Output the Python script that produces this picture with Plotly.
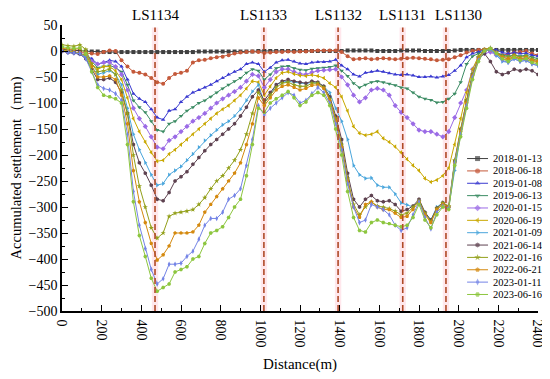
import plotly.graph_objects as go

# ---------------- data ----------------
distance = list(range(0, 2401, 30))

dates = ["2018-01-13", "2018-06-18", "2019-01-08", "2019-06-13", "2020-01-15", "2020-06-19",
         "2021-01-09", "2021-06-14", "2022-01-16", "2022-06-21", "2023-01-11", "2023-06-16"]

s_20180113 = [3,2,1,0,-1,-1,-1,-2,-2,-2,
 -2,-2,-2,-2,-2,-2,-2,-2,-2,-2,
 -2,-2,-2,-1,-1,-1,-1,-1,-1,-1,
 -1,-1,-1,0,0,0,0,0,0,0,
 0,0,0,0,0,0,0,0,1,1,
 1,1,1,0,0,0,0,1,1,1,
 1,0,0,0,0,0,1,2,2,2,
 2,2,2,2,2,2,2,2,2,2,
 2]

s_20180618 = [0,-1,-2,-3,-3,-5,-6,-2,1,0,
 -18,-30,-40,-42,-45,-52,-60,-63,-52,-44,
 -42,-38,-22,-18,-17,-14,-12,-11,-8,-5,
 -3,-2,-1,-2,-4,-3,-2,-2,-1,-2,
 -1,-1,0,1,1,1,1,-2,-10,-16,
 -15,-14,-16,-15,-14,-15,-16,-15,-14,-13,
 -14,-15,-16,-18,-17,-16,-12,-8,-3,0,
 2,3,0,-5,-8,-5,-3,-2,0,-5,
 -8]

s_20190108 = [0,-2,-3,-5,-8,-15,-25,-22,-18,-20,
 -30,-55,-82,-92,-98,-112,-128,-132,-115,-112,
 -98,-88,-80,-75,-70,-65,-58,-52,-45,-40,
 -35,-25,-22,-25,-40,-32,-22,-18,-17,-20,
 -24,-25,-22,-21,-21,-20,-17,-28,-35,-45,
 -49,-42,-40,-38,-40,-43,-45,-46,-45,-47,
 -50,-50,-49,-51,-49,-46,-38,-28,-12,-5,
 -2,2,3,2,-3,-5,-3,-5,-4,-8,
 -10]

s_20190613 = [0,-2,-4,-6,-8,-20,-32,-30,-28,-32,
 -40,-65,-95,-108,-118,-135,-152,-155,-140,-135,
 -125,-115,-108,-100,-95,-88,-80,-72,-65,-58,
 -52,-42,-35,-38,-55,-45,-33,-30,-29,-33,
 -36,-37,-34,-33,-32,-31,-28,-38,-48,-62,
 -70,-65,-60,-58,-60,-63,-66,-70,-72,-80,
 -88,-92,-94,-99,-98,-92,-82,-60,-25,-10,
 -5,0,2,-2,-8,-10,-8,-10,-8,-12,
 -15]

s_20200115 = [0,-2,-3,-5,-10,-20,-25,-22,-22,-30,
 -45,-75,-110,-130,-145,-165,-185,-188,-172,-165,
 -155,-145,-135,-128,-120,-110,-100,-92,-85,-78,
 -70,-58,-45,-48,-70,-55,-40,-35,-35,-40,
 -44,-45,-41,-38,-37,-36,-35,-50,-65,-85,
 -98,-90,-75,-72,-75,-85,-105,-118,-128,-140,
 -152,-155,-155,-160,-165,-155,-128,-100,-75,-35,
 -12,-5,-2,-8,-12,-15,-12,-15,-14,-18,
 -20]

s_20200619 = [2,0,-2,-4,-10,-25,-35,-30,-30,-38,
 -55,-90,-130,-155,-175,-195,-212,-210,-198,-190,
 -180,-170,-160,-150,-140,-130,-120,-112,-105,-95,
 -85,-72,-58,-60,-85,-68,-52,-42,-40,-44,
 -47,-48,-46,-48,-52,-62,-70,-88,-115,-145,
 -158,-162,-160,-155,-168,-175,-184,-195,-208,-220,
 -230,-245,-252,-248,-240,-225,-180,-130,-80,-35,
 -10,0,2,-5,-15,-18,-12,-15,-18,-20,
 -22]

s_20210109 = [0,-2,-3,-5,-12,-30,-45,-42,-38,-45,
 -65,-110,-160,-190,-215,-238,-258,-255,-238,-230,
 -222,-210,-198,-185,-172,-162,-152,-142,-135,-125,
 -112,-95,-78,-65,-100,-85,-65,-60,-58,-60,
 -62,-63,-60,-62,-68,-80,-110,-135,-170,-220,
 -238,-245,-244,-258,-262,-262,-275,-292,-296,-300,
 -288,-312,-325,-300,-292,-300,-230,-160,-100,-45,
 -15,0,3,-8,-20,-22,-15,-20,-18,-25,
 -28]

s_20210614 = [0,-3,-4,-6,-15,-35,-55,-55,-52,-60,
 -80,-120,-180,-215,-235,-258,-285,-288,-272,-250,
 -242,-232,-218,-205,-192,-180,-170,-160,-150,-140,
 -125,-108,-88,-75,-95,-80,-65,-58,-55,-58,
 -60,-62,-58,-60,-68,-88,-125,-170,-235,-285,
 -300,-285,-278,-288,-290,-288,-295,-308,-305,-298,
 -285,-310,-325,-302,-292,-300,-212,-150,-95,-45,
 -15,-5,-20,-40,-45,-42,-35,-38,-35,-38,
 -45]

s_20220116 = [12,10,9,12,3,-25,-40,-38,-35,-45,
 -75,-120,-200,-260,-300,-340,-360,-350,-318,-312,
 -310,-308,-305,-295,-282,-265,-250,-240,-225,-210,
 -190,-160,-120,-80,-100,-85,-70,-62,-60,-65,
 -68,-68,-62,-62,-70,-92,-130,-180,-245,-295,
 -315,-300,-290,-298,-300,-303,-308,-315,-312,-300,
 -288,-312,-328,-303,-292,-298,-210,-150,-95,-45,
 -12,3,6,-2,-10,-12,-8,-12,-10,-15,
 -18]

s_20220621 = [5,4,3,5,-5,-30,-50,-50,-48,-55,
 -85,-140,-230,-290,-330,-370,-402,-392,-375,-350,
 -350,-350,-348,-335,-310,-295,-280,-265,-250,-235,
 -215,-180,-140,-90,-105,-90,-75,-68,-65,-70,
 -75,-72,-66,-65,-72,-95,-135,-185,-250,-300,
 -320,-295,-290,-300,-305,-305,-312,-320,-318,-305,
 -290,-315,-330,-305,-295,-300,-215,-155,-100,-48,
 -15,2,5,-3,-12,-15,-10,-15,-12,-18,
 -20]

s_20230111 = [0,-3,-4,-5,-15,-40,-65,-72,-75,-82,
 -95,-160,-270,-335,-380,-420,-448,-438,-410,-410,
 -408,-395,-385,-362,-335,-322,-322,-310,-285,-278,
 -265,-220,-170,-105,-123,-110,-100,-90,-80,-85,
 -100,-95,-82,-70,-80,-100,-140,-190,-255,-300,
 -330,-325,-295,-300,-305,-315,-335,-345,-340,-315,
 -290,-320,-342,-310,-298,-302,-215,-160,-105,-50,
 -18,0,4,-5,-18,-22,-15,-20,-18,-25,
 -28]

s_20230616 = [8,6,5,6,-5,-40,-70,-85,-88,-92,
 -100,-180,-290,-355,-395,-437,-462,-455,-448,-425,
 -420,-415,-400,-395,-370,-350,-345,-338,-320,-300,
 -285,-240,-180,-110,-118,-100,-92,-85,-78,-90,
 -105,-98,-85,-80,-85,-105,-150,-200,-270,-320,
 -345,-348,-330,-325,-330,-332,-335,-338,-335,-320,
 -295,-325,-340,-315,-300,-305,-220,-165,-110,-55,
 -20,0,5,-5,-15,-20,-12,-18,-15,-22,
 -25]

series = [s_20180113, s_20180618, s_20190108, s_20190613, s_20200115, s_20200619,
          s_20210109, s_20210614, s_20220116, s_20220621, s_20230111, s_20230616]

ls_names = ["LS1134", "LS1133", "LS1132", "LS1131", "LS1130"]
ls_pos = [469, 1018, 1392, 1718, 1936]
ls_label_pos = [469, 1018, 1392, 1718, 1997]

# ---------------- styles ----------------
colors = ["#404040", "#c4593a", "#3a3ad0", "#3c8c64", "#9b6be6", "#c9a800",
          "#4aa6dc", "#5e4250", "#93a01a", "#d4890e", "#7484e6", "#8dc63f"]
symbols = ["square", "circle", "triangle-up", "triangle-down", "diamond", "triangle-left",
           "triangle-right", "hexagon", "star", "pentagon", "diamond-tall", "hexagon2"]

FONT = "Liberation Serif, Times New Roman, serif"

fig = go.Figure()

for name, vals, c, sym in zip(dates, series, colors, symbols):
    fig.add_trace(go.Scatter(
        x=distance, y=vals, mode="lines+markers", name=name,
        line=dict(color=c, width=1),
        marker=dict(symbol=sym, size=4, color=c, line=dict(width=0)),
        showlegend=False))

# compact legend drawn on overlay axes spanning the plot area ([0,1] both ways)
leg_top = 0.533
leg_step = 0.0432
for i, (name, c, sym) in enumerate(zip(dates, colors, symbols)):
    yy = leg_top - i * leg_step
    fig.add_trace(go.Scatter(
        x=[0.851, 0.873, 0.895], y=[yy, yy, yy], xaxis="x2", yaxis="y2",
        mode="lines+markers", line=dict(color=c, width=1),
        marker=dict(symbol=sym, size=[0, 5, 0], color=c, line=dict(width=0)),
        showlegend=False, hoverinfo="skip"))
    fig.add_annotation(x=0.901, y=yy, xref="paper", yref="paper", text=name,
                       showarrow=False, xanchor="left", yanchor="middle",
                       font=dict(family=FONT, size=10.5, color="black"))

shapes = []
for p in ls_pos:
    shapes.append(dict(type="rect", xref="x", yref="y", x0=p - 16, x1=p + 16, y0=-500, y1=45,
                       fillcolor="rgba(255,185,200,0.35)", line=dict(width=0), layer="below"))
    shapes.append(dict(type="line", xref="x", yref="y", x0=p, x1=p, y0=-500, y1=45,
                       line=dict(color="#b04a28", width=1.6, dash="6px,3px")))

for n, p in zip(ls_names, ls_label_pos):
    fig.add_annotation(x=p, y=1.035, xref="x", yref="paper", text=n, showarrow=False,
                       xanchor="center", yanchor="middle",
                       font=dict(family=FONT, size=15, color="black"))

axis_common = dict(showline=True, linecolor="black", linewidth=1.5, showgrid=False,
                   zeroline=False, ticks="inside", ticklen=6, tickwidth=1.3, tickcolor="black",
                   tickfont=dict(family=FONT, size=14, color="black"))

# page body has an 8px margin: the figure is sized so it ends exactly at the window edge
fig.update_layout(
    width=542, height=371,
    margin=dict(l=54, r=12, t=17, b=68, autoexpand=False),
    plot_bgcolor="white", paper_bgcolor="white",
    shapes=shapes,
    xaxis=dict(range=[0, 2400], dtick=200, tickangle=90, ticklabelstandoff=4,
               minor=dict(ticks="inside", ticklen=3, dtick=100, tickcolor="black", tickwidth=1.2),
               title=dict(text="Distance(m)", font=dict(family=FONT, size=15, color="black"), standoff=12),
               **axis_common),
    yaxis=dict(range=[-500, 50], dtick=50,
               minor=dict(ticks="inside", ticklen=3, dtick=25, tickcolor="black", tickwidth=1.2),
               title=dict(text="Accumulated settlement（mm)", font=dict(family=FONT, size=14.5, color="black"), standoff=5),
               **axis_common),
    xaxis2=dict(overlaying="x", anchor="y2", range=[0, 1], visible=False),
    yaxis2=dict(overlaying="y", anchor="x2", range=[0, 1], visible=False),
    showlegend=False,
)

fig.write_html("out.html")
